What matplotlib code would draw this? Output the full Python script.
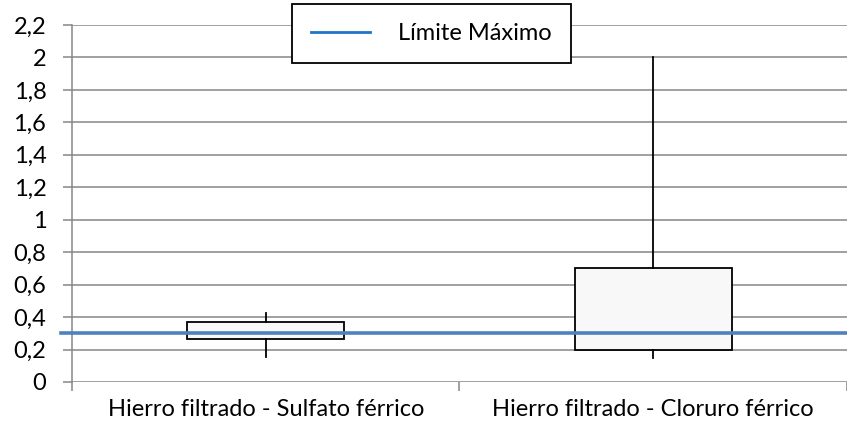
import matplotlib.pyplot as plt
from matplotlib.lines import Line2D
from matplotlib.ticker import FixedLocator

categorias = ['Hierro filtrado - Sulfato férrico', 'Hierro filtrado - Cloruro férrico']
q1 = [0.265, 0.20]
q3 = [0.37, 0.70]
minimos = [0.155, 0.15]
maximos = [0.425, 2.0]
limite_maximo = 0.3
y_ticks = [0, 0.2, 0.4, 0.6, 0.8, 1, 1.2, 1.4, 1.6, 1.8, 2, 2.2]

plt.rcParams['font.family'] = ['Lato', 'DejaVu Sans']
gris = '#868686'
fs = 17

fig = plt.figure(figsize=(8.47, 4.28), dpi=100)
ax = fig.add_axes([0.085, 0.1075, 0.915, 0.8341])

stats = []
for i in range(len(categorias)):
    stats.append({'q1': q1[i], 'q3': q3[i], 'med': q1[i],
                  'whislo': minimos[i], 'whishi': maximos[i], 'fliers': []})

ax.bxp(stats, positions=[1, 2], widths=0.405, showcaps=False, showfliers=False,
       patch_artist=True,
       boxprops=dict(facecolor='#f8f8f8', edgecolor='black', linewidth=1.3),
       whiskerprops=dict(color='black', linewidth=1.3),
       medianprops=dict(visible=False), zorder=3)

ax.axhline(limite_maximo, xmin=-0.014, xmax=1, color='#4f81bd', linewidth=2.6,
           clip_on=False, zorder=4)

ax.set_xlim(0.5, 2.5)
ax.set_ylim(0, 2.2)
ax.set_yticks(y_ticks)
ax.set_yticklabels([('%g' % v).replace('.', ',') for v in y_ticks])
ax.yaxis.grid(True, color=gris, linewidth=1.1)
ax.set_axisbelow(True)

ax.set_xticks([1, 2])
ax.set_xticklabels(categorias)
ax.xaxis.set_minor_locator(FixedLocator([0.5, 1.5, 2.5]))
ax.tick_params(axis='x', which='major', length=0, pad=12, labelsize=fs)
ax.tick_params(axis='x', which='minor', length=6.5, color=gris, width=1.1)
ax.tick_params(axis='y', length=6.5, color=gris, width=1.1, pad=12, labelsize=fs)

for s in ['top', 'right', 'bottom']:
    ax.spines[s].set_visible(False)
ax.spines['left'].set_color(gris)
ax.spines['left'].set_linewidth(1.1)

handle = Line2D([], [], color='#1f74c8', linewidth=2)
leg = fig.legend([handle], ['Límite Máximo'], loc='center',
                 bbox_to_anchor=(0.5095, 0.921), fontsize=fs,
                 handlelength=2.5, handletextpad=1.2, borderpad=0.8,
                 fancybox=False, framealpha=1, edgecolor='black')
leg.get_frame().set_linewidth(1.3)

fig.savefig('out.png', dpi=100)
